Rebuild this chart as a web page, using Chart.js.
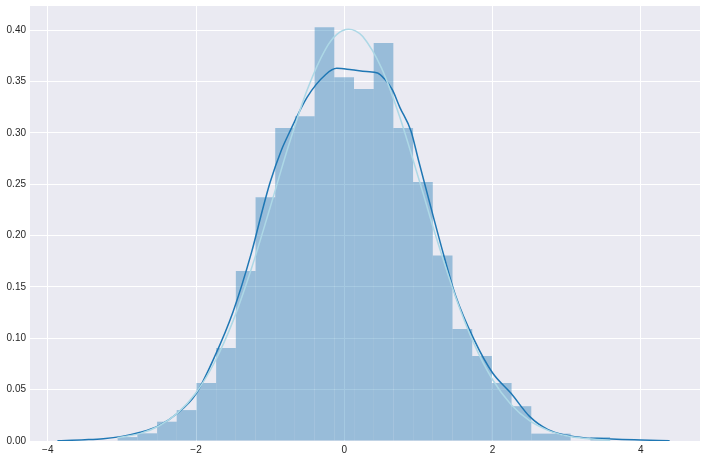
<!DOCTYPE html>
<html>
<head>
<meta charset="utf-8">
<script src="https://cdn.jsdelivr.net/npm/chart.js@4.4.1/dist/chart.umd.min.js"></script>
<style>
  html, body { margin: 0; padding: 0; background: #fff; }
  #wrap { width: 706px; height: 461px; }
</style>
</head>
<body>
<div id="wrap"><canvas id="grafica"></canvas></div>
<script>
// Histograma (densidad): centro de cada barra y su altura
const binCenters = [-2.925, -2.659, -2.393, -2.128, -1.862, -1.596, -1.330, -1.064, -0.799, -0.533,
                    -0.267, -0.001, 0.265, 0.530, 0.796, 1.062, 1.328, 1.594, 1.859, 2.125,
                    2.391, 2.657, 2.922, 3.188, 3.454];
const binDensity = [0.0038, 0.0075, 0.0188, 0.0301, 0.0565, 0.0905, 0.1656, 0.2375, 0.3048, 0.3164,
                    0.4030, 0.3542, 0.3428, 0.3877, 0.3048, 0.2522, 0.1806, 0.1092, 0.0828, 0.0565,
                    0.0339, 0.0072, 0.0072, 0, 0.0038];

// Curva KDE (azul oscuro)
const kdeX = [-3.87, -3.5, -3.25, -3.0, -2.75, -2.5, -2.25, -2.0, -1.75, -1.5, -1.25, -1.1, -1.0, -0.85, -0.75, -0.5,
              -0.25, -0.1, 0.1, 0.3, 0.45, 0.55, 0.65, 0.75, 0.9, 1.0, 1.2, 1.35, 1.5, 1.75, 2.0, 2.25,
              2.5, 2.75, 3.0, 3.25, 3.5, 3.75, 4.0, 4.39];
const kdeY = [0.0003, 0.0012, 0.0022, 0.0045, 0.0085, 0.015, 0.027, 0.046, 0.082, 0.126, 0.184, 0.226, 0.252, 0.283, 0.299, 0.335,
              0.357, 0.363, 0.3615, 0.3598, 0.3585, 0.352, 0.342, 0.325, 0.302, 0.274, 0.219, 0.179, 0.142, 0.099, 0.0665, 0.0465,
              0.024, 0.011, 0.0055, 0.003, 0.0023, 0.0015, 0.001, 0.0002];

// Ajuste normal (azul claro)
const fitX = [-3.06, -2.75, -2.5, -2.25, -2.0, -1.75, -1.5, -1.25, -1.0, -0.75, -0.5, -0.25, -0.1, 0.06,
              0.15, 0.25, 0.5, 0.75, 1.0, 1.25, 1.5, 1.75, 2.0, 2.25, 2.5, 2.75, 3.0, 3.25, 3.59];
const fitY = [0.0031, 0.0074, 0.0146, 0.0271, 0.047, 0.0767, 0.117, 0.1685, 0.2275, 0.288, 0.342, 0.382, 0.396, 0.401,
              0.3995, 0.394, 0.3637, 0.3154, 0.2567, 0.1962, 0.1408, 0.0948, 0.0599, 0.0356, 0.0198, 0.0104, 0.0051, 0.0024, 0.0007];

// Límites de los ejes
const xMin = -4.24, xMax = 4.80;
const yMin = 0, yMax = 0.4237;

const pares = (xs, ys) => xs.map((x, i) => ({ x, y: ys[i] }));

// Fondo gris del área de trazado (estilo darkgrid)
const fondoPlot = {
  id: "fondoPlot",
  beforeDraw(chart) {
    const { ctx, chartArea: a } = chart;
    ctx.save();
    ctx.fillStyle = "#EAEAF2";
    ctx.fillRect(a.left, a.top, a.right - a.left, a.bottom - a.top);
    ctx.restore();
  }
};

Chart.defaults.font.family = "'Liberation Sans', Arial, sans-serif";
Chart.defaults.font.size = 10;
Chart.defaults.color = "#262626";

new Chart(document.getElementById("grafica").getContext("2d"), {
  type: "bar",
  data: {
    datasets: [
      {
        type: "line",
        data: pares(fitX, fitY),
        borderColor: "#ADD8E6",
        borderWidth: 1.5,
        pointRadius: 0,
        cubicInterpolationMode: "monotone",
        order: 1
      },
      {
        type: "line",
        data: pares(kdeX, kdeY),
        borderColor: "#1f77b4",
        borderWidth: 1.5,
        pointRadius: 0,
        cubicInterpolationMode: "monotone",
        order: 2
      },
      {
        type: "bar",
        data: pares(binCenters, binDensity),
        backgroundColor: "rgba(31, 119, 180, 0.4)",
        borderWidth: 0,
        inflateAmount: 0,
        barPercentage: 1,
        categoryPercentage: 1,
        order: 3
      }
    ]
  },
  options: {
    responsive: true,
    maintainAspectRatio: false,
    animation: false,
    layout: { padding: { left: 6, top: 6, right: 6, bottom: 6 } },
    plugins: { legend: { display: false }, tooltip: { enabled: false } },
    scales: {
      x: {
        type: "linear",
        min: xMin,
        max: xMax,
        offset: false,
        border: { display: false },
        grid: { color: "#ffffff", lineWidth: 1, drawTicks: false, offset: false },
        ticks: {
          stepSize: 2,
          includeBounds: false,
          padding: 3,
          maxRotation: 0,
          callback: v => (v < 0 ? "\u2212" + Math.abs(v) : String(v))
        },
        afterFit: s => { s.height = 14; s.paddingLeft = 0; s.paddingRight = 0; }
      },
      y: {
        min: yMin,
        max: yMax,
        border: { display: false },
        grid: { color: "#ffffff", lineWidth: 1, drawTicks: false },
        ticks: {
          stepSize: 0.05,
          includeBounds: false,
          padding: 4,
          callback: v => v.toFixed(2)
        },
        afterFit: s => { s.width = 24; s.paddingTop = 0; s.paddingBottom = 0; }
      }
    }
  },
  plugins: [fondoPlot]
});
</script>
</body>
</html>
